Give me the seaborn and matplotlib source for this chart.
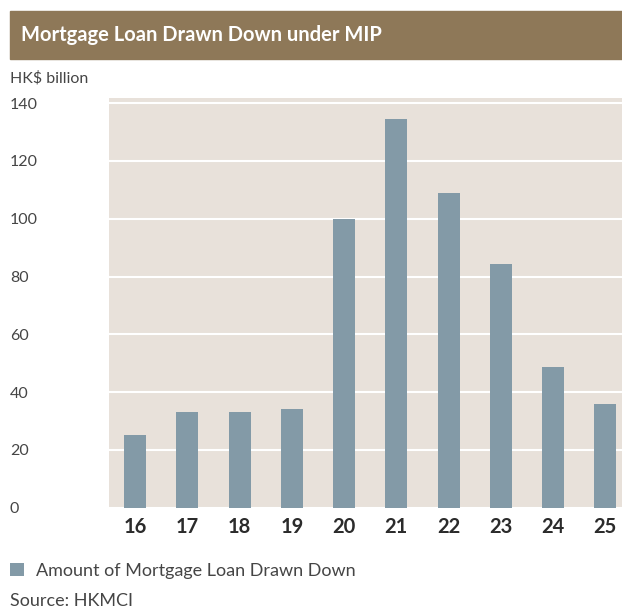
import matplotlib
matplotlib.use("Agg")
import matplotlib.pyplot as plt
import seaborn as sns
from matplotlib.patches import Rectangle

# dados
years = ["16", "17", "18", "19", "20", "21", "22", "23", "24", "25"]
amounts = [25.2, 33.1, 33.1, 34.2, 100.0, 134.5, 108.9, 84.4, 48.7, 35.9]
y_ticks = [0, 20, 40, 60, 80, 100, 120, 140]

bar_color = "#839aa7"
bg_color = "#e8e1da"
banner_color = "#8e7858"
text_color = "#454545"

sns.set_style("white")
plt.rcParams["font.family"] = ["Lato", "DejaVu Sans"]

fig = plt.figure(figsize=(6.22, 6.09), dpi=100)
ax = fig.add_axes([109 / 622, 1 - 507.7 / 609, 1 - 109 / 622, (507.7 - 98) / 609])
ax.set_facecolor(bg_color)

sns.barplot(x=years, y=amounts, color=bar_color, width=0.42, saturation=1,
            linewidth=0, edgecolor=bar_color,
            label="Amount of Mortgage Loan Drawn Down", ax=ax, zorder=3)

ax.set_xlim(-0.5, 9.32)
ax.set_ylim(0, 141.8)
ax.set_yticks(y_ticks)
ax.yaxis.grid(True, color="white", linewidth=1.5, zorder=1)
ax.set_axisbelow(True)
for s in ax.spines.values():
    s.set_visible(False)
ax.tick_params(axis="both", length=0)
ax.set_xlabel("")
ax.set_ylabel("")

for lbl in ax.get_yticklabels():
    lbl.set_horizontalalignment("left")
    lbl.set_fontsize(11.5)
    lbl.set_color(text_color)
ax.tick_params(axis="y", pad=(109 - 10) * 72 / 100)
for lbl in ax.get_xticklabels():
    lbl.set_fontsize(14.5)
    lbl.set_fontweight("bold")
    lbl.set_color("#2b2b2b")
ax.tick_params(axis="x", pad=7)

# faixa do título
fig.patches.append(Rectangle((10 / 622, 1 - 59 / 609), 1 - 10 / 622, 48 / 609,
                             transform=fig.transFigure, color=banner_color, zorder=0))
fig.text(21 / 622, 1 - 35 / 609, "Mortgage Loan Drawn Down under MIP",
         color="white", fontsize=14.5, fontweight="bold", va="center", ha="left")

fig.text(10 / 622, 1 - 78 / 609, "HK$ billion", color=text_color, fontsize=11.5,
         va="center", ha="left")

leg = ax.legend(loc="center left", bbox_to_anchor=(10 / 622, 1 - 571 / 609),
                bbox_transform=fig.transFigure, frameon=False, fontsize=13,
                borderpad=0, borderaxespad=0,
                handlelength=0.75, handleheight=0.75, handletextpad=0.7)
for t in leg.get_texts():
    t.set_color(text_color)

fig.text(10 / 622, 1 - 601 / 609, "Source: HKMCI", color=text_color, fontsize=13,
         va="center", ha="left")

fig.savefig("out.png", dpi=100)
